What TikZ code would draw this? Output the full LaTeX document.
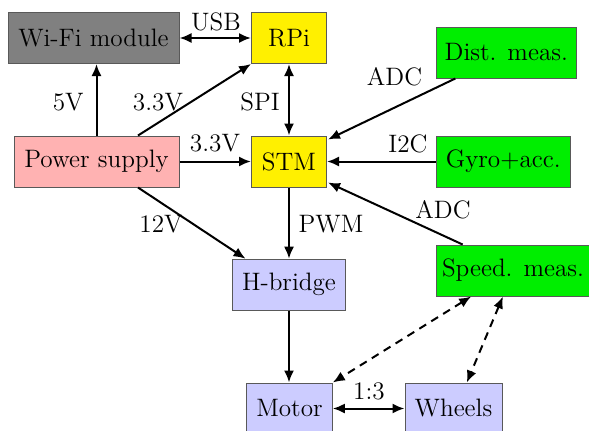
\documentclass[tikz,border=0pt]{standalone}
\usepackage{fontspec}
\usetikzlibrary{calc,arrows.meta}
\definecolor{boxgray}{RGB}{128,128,128}
\definecolor{boxyellow}{RGB}{255,240,0}
\definecolor{boxgreen}{RGB}{0,238,0}
\definecolor{boxpink}{RGB}{255,178,178}
\definecolor{boxblue}{RGB}{204,204,255}
\tikzset{
  blk/.style={draw=black!65, line width=0.5pt, minimum height=25.5pt, inner sep=0pt,
    font=\fontsize{12.6}{14}\selectfont},
  lbl/.style={font=\fontsize{12.6}{14}\selectfont, inner sep=0pt},
  conn/.style={line width=1pt, -{Latex[length=6pt,width=5pt]}},
  bconn/.style={line width=1pt, {Latex[length=6pt,width=5pt]}-{Latex[length=6pt,width=5pt]}},
  dconn/.style={bconn, dash pattern=on 4pt off 3pt},
}
\begin{document}
\begin{tikzpicture}[x=0.5pt,y=-0.5pt]
\useasboundingbox (0,0) rectangle (589,430);
\node[blk, fill=boxgray, minimum width=85.5pt] (wifi) at (93.5,38) {Wi-Fi module};
\node[blk, fill=boxyellow, minimum width=37.5pt] (rpi) at (289,38) {RPi};
\node[blk, fill=boxgreen, minimum width=70.3pt] (dist) at (506.3,52.5) {Dist. meas.};
\node[blk, fill=boxpink, minimum width=82.5pt] (ps) at (96.5,161.5) {Power supply};
\node[blk, fill=boxyellow, minimum width=37.5pt] (stm) at (289,161.5) {STM};
\node[blk, fill=boxgreen, minimum width=67.3pt] (gyro) at (503.3,161.5) {Gyro+acc.};
\node[blk, fill=boxblue, minimum width=56.7pt] (hb) at (289,284.7) {H-bridge};
\node[blk, fill=boxgreen, minimum width=77pt] (speed) at (513,270.5) {Speed. meas.};
\node[blk, fill=boxblue, minimum width=42.8pt] (motor) at (289.5,408.5) {Motor};
\node[blk, fill=boxblue, minimum width=48.5pt] (wheels) at (453.5,408.5) {Wheels};

\draw[bconn] (wifi.east) -- (rpi.west);
\draw[conn] (ps.north) -- (ps.north |- wifi.south);
\draw[conn] ($(ps.north west)!0.75!(ps.north east)$) -- (rpi.south west);
\draw[conn] (ps.east) -- (stm.west);
\draw[bconn] (rpi.south) -- (stm.north);
\draw[conn] ($(dist.south west)!0.14!(dist.south east)$) -- ($(stm.north east)+(1,4)$);
\draw[conn] (gyro.west) -- (stm.east);
\draw[conn] ($(speed.north west)!0.175!(speed.north east)$) -- ($(stm.south east)+(1,-5)$);
\draw[conn] (stm.south) -- (hb.north);
\draw[conn] ($(ps.south west)!0.75!(ps.south east)$) -- ($(hb.north west)!0.12!(hb.north east)$);
\draw[conn] (hb.south) -- (hb.south |- motor.north);
\draw[bconn] (motor.east) -- (wheels.west);
\draw[dconn] ($(speed.south west)!0.23!(speed.south east)$) -- (motor.north east);
\draw[dconn] ($(speed.south west)!0.435!(speed.south east)$) -- ($(wheels.north west)!0.636!(wheels.north east)$);

\node[lbl] (lusb) at (216,21.5) {USB};
\node[lbl] (l5v) at (68.3,101.7) {5V};
\node[lbl] (l33a) at (158,101.7) {3.3V};
\node[lbl] (lspi) at (260,101.7) {SPI};
\node[lbl] (l33b) at (215,143.5) {3.3V};
\node[lbl] (ladc1) at (394.5,77) {ADC};
\node[lbl] (li2c) at (408,144) {I2C};
\node[lbl] (ladc2) at (443,210) {ADC};
\node[lbl] (lpwm) at (331,224) {PWM};
\node[lbl] (l12v) at (161,224) {12V};
\node[lbl] (l13) at (369,391) {1:3};
\end{tikzpicture}
\end{document}
